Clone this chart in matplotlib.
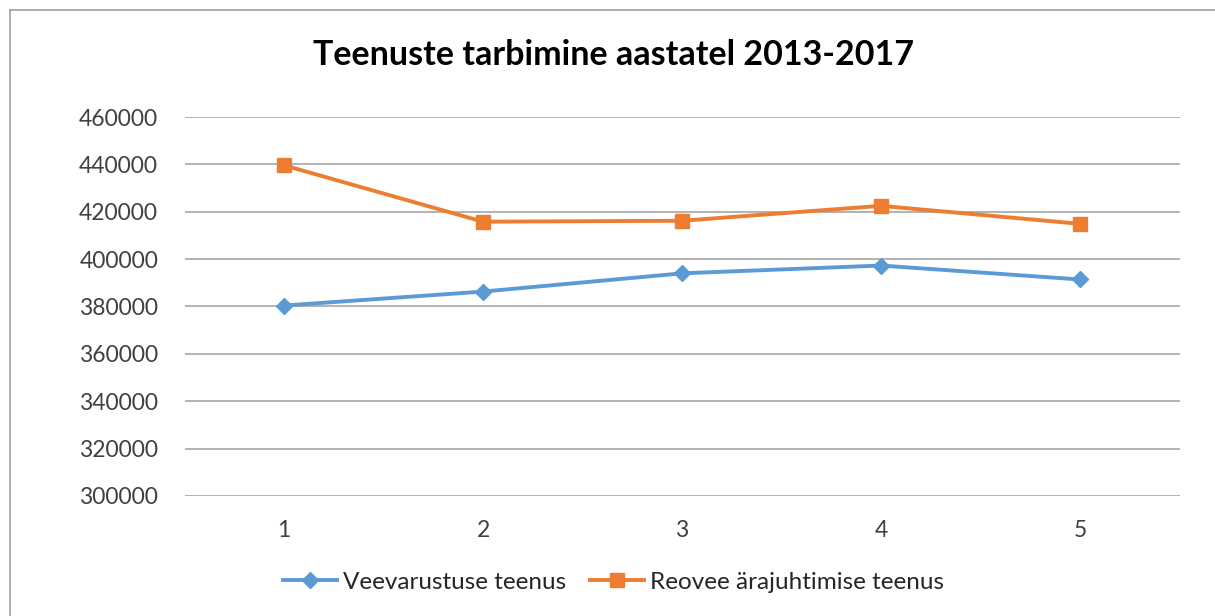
import matplotlib.pyplot as plt
from matplotlib.lines import Line2D

plt.rcParams['font.family'] = ['Lato', 'DejaVu Sans']

# andmed
aastad = [1, 2, 3, 4, 5]
vesi = [380400, 386300, 394000, 397300, 391400]
reovesi = [439600, 415800, 416200, 422500, 414900]
y_ticks = [300000, 320000, 340000, 360000, 380000, 400000, 420000, 440000, 460000]

fig = plt.figure(figsize=(12.15, 6.16), dpi=100)
ax = fig.add_axes([184.5 / 1215, 1 - 496 / 616, 995 / 1215, 379 / 616])

ax.plot(aastad, vesi, color='#5B9BD5', lw=2.8, marker='D', ms=8.5,
        label='Veevarustuse teenus')
ax.plot(aastad, reovesi, color='#ED7D31', lw=2.8, marker='s', ms=9.5,
        label='Reovee ärajuhtimise teenus')

ax.set_xlim(0.5, 5.5)
ax.set_ylim(300000, 460000)
ax.set_xticks(aastad)
ax.set_yticks(y_ticks)
ax.tick_params(length=0, labelsize=16.5, colors='#404040')
ax.tick_params(axis='x', pad=17)
ax.tick_params(axis='y', pad=19)
ax.grid(axis='y', color='#A6A6A6', lw=1.2)
ax.set_axisbelow(True)
for s in ax.spines.values():
    s.set_visible(False)

fig.text(0.505, 1 - 55 / 616, 'Teenuste tarbimine aastatel 2013-2017',
         ha='center', va='center', fontsize=24.5, fontweight='bold', color='black')

fig.legend(loc='center', bbox_to_anchor=(0.505, 1 - 582 / 616), ncol=2,
           frameon=False, fontsize=17.5, handlelength=2.2, columnspacing=1.0,
           handletextpad=0.25, labelcolor='#262626')

# diagrammi raam
fig.add_artist(Line2D([10 / 1215, 1], [1 - 10 / 616] * 2, color='#A0A0A0', lw=1.2))
fig.add_artist(Line2D([10 / 1215] * 2, [0, 1 - 10 / 616], color='#A0A0A0', lw=1.2))

plt.savefig('out.png', dpi=100)
